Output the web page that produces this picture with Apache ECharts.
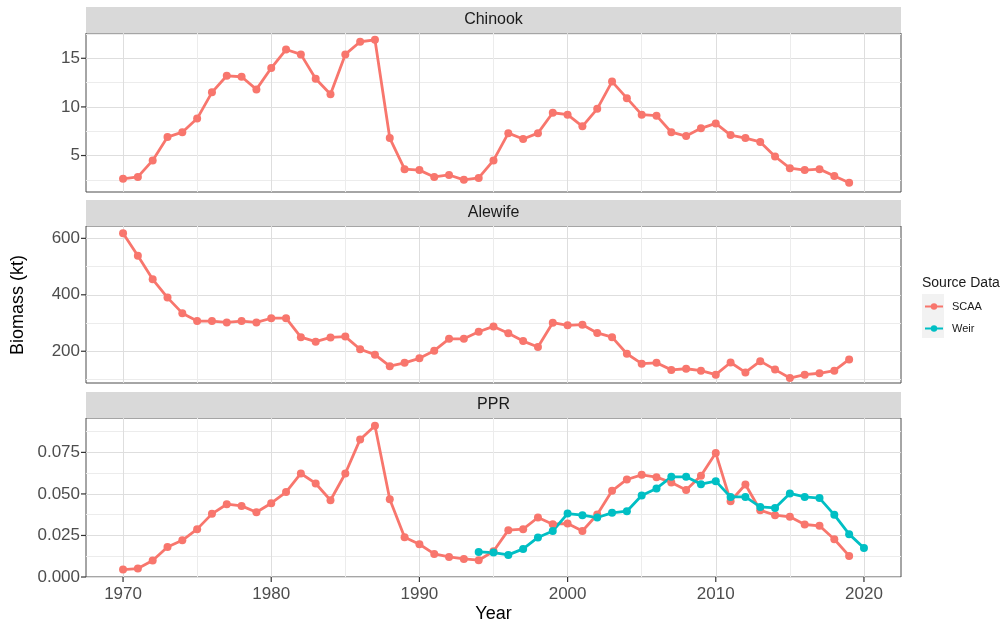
<!DOCTYPE html>
<html>
<head>
<meta charset="utf-8">
<script src="https://cdn.jsdelivr.net/npm/echarts@6/dist/echarts.min.js"></script>
<style>
  html, body { margin: 0; padding: 0; background: #fff; }
  #chart { width: 1006px; height: 626px; }
</style>
</head>
<body>
<div id="chart"></div>
<script>
// data
const scaaYears = [1970, 1971, 1972, 1973, 1974, 1975, 1976, 1977, 1978, 1979,
  1980, 1981, 1982, 1983, 1984, 1985, 1986, 1987, 1988, 1989,
  1990, 1991, 1992, 1993, 1994, 1995, 1996, 1997, 1998, 1999,
  2000, 2001, 2002, 2003, 2004, 2005, 2006, 2007, 2008, 2009,
  2010, 2011, 2012, 2013, 2014, 2015, 2016, 2017, 2018, 2019];
const weirYears = [1994, 1995, 1996, 1997, 1998, 1999, 2000, 2001, 2002, 2003,
  2004, 2005, 2006, 2007, 2008, 2009, 2010, 2011, 2012, 2013,
  2014, 2015, 2016, 2017, 2018, 2019, 2020];

const chinookScaa = [2.6, 2.8, 4.5, 6.9, 7.4, 8.8, 11.5, 13.2, 13.1, 11.8,
  14.0, 15.9, 15.4, 12.9, 11.3, 15.4, 16.7, 16.9, 6.8, 3.6,
  3.5, 2.8, 3.0, 2.5, 2.7, 4.5, 7.3, 6.7, 7.3, 9.4,
  9.2, 8.0, 9.8, 12.6, 10.9, 9.2, 9.1, 7.4, 7.0, 7.8,
  8.3, 7.1, 6.8, 6.4, 4.9, 3.7, 3.5, 3.6, 2.9, 2.2];
const alewifeScaa = [618, 538, 455, 390, 335, 307, 307, 302, 307, 302,
  317, 317, 250, 234, 249, 252, 207, 188, 147, 159,
  175, 202, 244, 244, 269, 288, 264, 236, 215, 301,
  292, 294, 265, 250, 191, 156, 159, 134, 138, 131,
  117, 160, 125, 165, 135, 105, 117, 122, 131, 171];
const pprScaa = [0.0045, 0.0051, 0.0099, 0.0181, 0.0221, 0.0288, 0.0380, 0.0438, 0.0428, 0.0390,
  0.0444, 0.0511, 0.0623, 0.0563, 0.0462, 0.0623, 0.0828, 0.0910, 0.0468, 0.0239,
  0.0197, 0.0139, 0.0121, 0.0109, 0.0101, 0.0155, 0.0282, 0.0288, 0.0358, 0.0318,
  0.0322, 0.0277, 0.0376, 0.0519, 0.0587, 0.0615, 0.0601, 0.0569, 0.0523, 0.0609,
  0.0746, 0.0456, 0.0557, 0.0402, 0.0372, 0.0362, 0.0316, 0.0308, 0.0227, 0.0127];
const pprWeir = [0.0151, 0.0147, 0.0133, 0.0169, 0.0238, 0.0277, 0.0382, 0.0372, 0.0358, 0.0386,
  0.0396, 0.0491, 0.0533, 0.0603, 0.0603, 0.0559, 0.0577, 0.0482, 0.0482, 0.0422,
  0.0416, 0.0503, 0.0482, 0.0475, 0.0374, 0.0258, 0.0175];

const panelNames = ["Chinook", "Alewife", "PPR"];
const sourceNames = ["SCAA", "Weir"];
const xTickLabels = [1970, 1980, 1990, 2000, 2010, 2020];
const chinookTicks = [5, 10, 15];
const alewifeTicks = [200, 400, 600];
const pprTicks = [0, 0.025, 0.05, 0.075];

const SCAA_COLOR = "#F8766D";
const WEIR_COLOR = "#00BFC4";
const MAJOR = "#DEDEDE";
const MINOR = "#ECECEC";
const NONE = "rgba(0,0,0,0)";
const FONT = "Liberation Sans, Arial, sans-serif";

// panel boxes in pixels: top, height
const panels = [
  { top: 33, height: 159 },
  { top: 226, height: 157 },
  { top: 418, height: 159 },
];
const LEFT = 86, RIGHT = 901;

function isMultiple(v, step) {
  const r = v / step;
  return Math.abs(r - Math.round(r)) < 1e-6;
}

// ticks run from min with a small step; colours pick out major / minor lines
function gridColors(min, max, step, major, minor) {
  const out = [];
  const n = Math.ceil((max - min) / step - 1e-9);
  for (let i = 0; i <= n + 1; i++) {
    const v = min + i * step;
    if (v > max + 1e-9) { out.push(NONE); continue; }
    out.push(isMultiple(v, major) ? MAJOR : isMultiple(v, minor) ? MINOR : NONE);
  }
  return out;
}

function hasTick(list, v) {
  return list.some((t) => Math.abs(t - v) < 1e-9);
}

const yConf = [
  { min: 1.25, max: 17.6, step: 1.25, major: 5, minor: 2.5, ticks: chinookTicks, dec: 0 },
  { min: 87.5, max: 643.75, step: 12.5, major: 200, minor: 100, ticks: alewifeTicks, dec: 0 },
  { min: 0, max: 0.0957, step: 0.0125, major: 0.025, minor: 0.0125, ticks: pprTicks, dec: 3 },
];
const xConf = { min: 1967.5, max: 2022.5, step: 2.5, major: 10, minor: 5 };

const grids = panels.map((p) => ({
  left: LEFT,
  width: RIGHT - LEFT,
  top: p.top,
  height: p.height,
  show: true,
  borderColor: "#4D4D4D",
  borderWidth: 1,
  backgroundColor: "#fff",
}));

const xAxes = panels.map((p, i) => ({
  type: "value",
  gridIndex: i,
  min: xConf.min,
  max: xConf.max,
  interval: xConf.step,
  axisLine: { show: false },
  axisTick: { show: false },
  splitLine: {
    show: true,
    lineStyle: { width: 1, color: gridColors(xConf.min, xConf.max, xConf.step, xConf.major, xConf.minor) },
  },
  axisLabel: {
    show: i === 2,
    margin: 0,
    showMinLabel: true,
    showMaxLabel: true,
    formatter: (v) => (hasTick(xTickLabels, v) ? "{t|}\n{v|" + v + "}" : ""),
    rich: {
      t: { width: 1.2, height: 5, lineHeight: 5, backgroundColor: "#333", align: "center" },
      v: { fontSize: 17, fontFamily: FONT, color: "#4D4D4D", lineHeight: 22, padding: [2, 0, 0, 0], align: "center" },
    },
  },
}));

const yAxes = yConf.map((c, i) => ({
  type: "value",
  gridIndex: i,
  min: c.min,
  max: c.max,
  interval: c.step,
  axisLine: { show: false },
  axisTick: { show: false },
  splitLine: {
    show: true,
    lineStyle: { width: 1, color: gridColors(c.min, c.max, c.step, c.major, c.minor) },
  },
  axisLabel: {
    margin: 0,
    showMinLabel: true,
    showMaxLabel: true,
    formatter: (v) => (hasTick(c.ticks, v) ? "{v|" + v.toFixed(c.dec) + "}{t|}" : ""),
    rich: {
      v: { fontSize: 17, fontFamily: FONT, color: "#4D4D4D", padding: [0, 1, 0, 0] },
      t: { width: 5, height: 1.2, backgroundColor: "#333" },
    },
  },
}));

function pairs(xs, ys) {
  return xs.map((x, k) => [x, ys[k]]);
}

function lineSeries(name, color, idx, xs, ys) {
  return {
    name: name,
    type: "line",
    xAxisIndex: idx,
    yAxisIndex: idx,
    data: pairs(xs, ys),
    symbol: "circle",
    symbolSize: 8,
    showSymbol: true,
    lineStyle: { width: 2.8, color: color },
    itemStyle: { color: color },
    emphasis: { disabled: true },
    animation: false,
    z: 3,
  };
}

const series = [
  lineSeries(sourceNames[0], SCAA_COLOR, 0, scaaYears, chinookScaa),
  lineSeries(sourceNames[0], SCAA_COLOR, 1, scaaYears, alewifeScaa),
  lineSeries(sourceNames[0], SCAA_COLOR, 2, scaaYears, pprScaa),
  lineSeries(sourceNames[1], WEIR_COLOR, 2, weirYears, pprWeir),
];

const graphics = [];
panels.forEach((p, i) => {
  graphics.push({
    type: "rect",
    shape: { x: LEFT, y: p.top - 26, width: RIGHT - LEFT, height: 26 },
    style: { fill: "#D9D9D9" },
    silent: true,
  });
  graphics.push({
    type: "text",
    x: (LEFT + RIGHT) / 2,
    y: p.top - 13,
    style: {
      text: panelNames[i],
      fontSize: 16,
      fontFamily: FONT,
      fill: "#1A1A1A",
      align: "center",
      verticalAlign: "middle",
    },
    silent: true,
  });
});
graphics.push(
  {
    type: "text",
    x: (LEFT + RIGHT) / 2,
    y: 614,
    style: { text: "Year", fontSize: 18, fontFamily: FONT, fill: "#000", align: "center", verticalAlign: "middle" },
  },
  {
    type: "text",
    x: 18,
    y: 305,
    rotation: Math.PI / 2,
    style: { text: "Biomass (kt)", fontSize: 18, fontFamily: FONT, fill: "#000", align: "center", verticalAlign: "middle" },
  },
  {
    type: "text",
    x: 922,
    y: 283,
    style: { text: "Source Data", fontSize: 14, fontFamily: FONT, fill: "#1A1A1A", align: "left", verticalAlign: "middle" },
  },
  {
    type: "rect",
    shape: { x: 922, y: 294, width: 22, height: 44 },
    style: { fill: "#F2F2F2" },
    z: -1,
  }
);

const chart = echarts.init(document.getElementById("chart"), null, { renderer: "canvas" });
chart.setOption({
  animation: false,
  backgroundColor: "#fff",
  textStyle: { fontFamily: FONT },
  grid: grids,
  xAxis: xAxes,
  yAxis: yAxes,
  series: series,
  legend: {
    data: sourceNames,
    orient: "vertical",
    left: 924,
    top: 301,
    padding: 0,
    itemWidth: 18,
    itemHeight: 8,
    itemGap: 11,
    textStyle: { fontSize: 11, fontFamily: FONT, color: "#1A1A1A", padding: [0, 0, 0, 4] },
    selectedMode: false,
  },
  graphic: graphics,
});
</script>
</body>
</html>
